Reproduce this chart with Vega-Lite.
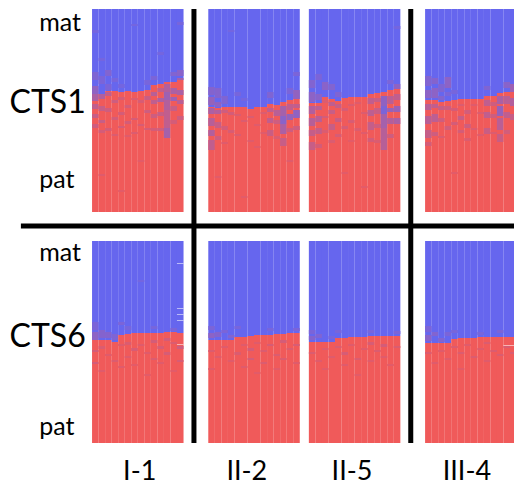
{"$schema":"https://vega.github.io/schema/vega-lite/v6.json","width":514,"height":491,"padding":0,"autosize":"none","background":"white","view":{"stroke":null},
"datasets":{"cells":[
{"x":14.6,"y":9,"e":94,"v":1},{"x":14.6,"y":94,"e":212,"v":0},{"x":14.6,"y":30,"e":33,"v":0.9},{"x":14.6,"y":72,"e":80,"v":0.82},{"x":14.6,"y":86,"e":94,"v":0.7},{"x":14.6,"y":94,"e":101,"v":0.5},{"x":14.6,"y":104,"e":109,"v":0.35},{"x":14.6,"y":114,"e":118,"v":0.3},{"x":14.6,"y":124,"e":128,"v":0.25},
{"x":15.6,"y":9,"e":94,"v":1},{"x":15.6,"y":94,"e":212,"v":0},{"x":15.6,"y":58,"e":61,"v":0.9},{"x":15.6,"y":76,"e":84,"v":0.85},{"x":15.6,"y":94,"e":99,"v":0.45},{"x":15.6,"y":106,"e":111,"v":0.3},{"x":15.6,"y":120,"e":123,"v":0.3},{"x":15.6,"y":130,"e":133,"v":0.2},{"x":15.6,"y":174,"e":176,"v":0.12},
{"x":16.6,"y":9,"e":91,"v":1},{"x":16.6,"y":91,"e":212,"v":0},{"x":16.6,"y":70,"e":76,"v":0.8},{"x":16.6,"y":84,"e":90,"v":0.85},{"x":16.6,"y":92,"e":96,"v":0.35},{"x":16.6,"y":108,"e":112,"v":0.25},{"x":16.6,"y":128,"e":131,"v":0.2},
{"x":17.6,"y":9,"e":91,"v":1},{"x":17.6,"y":91,"e":212,"v":0},{"x":17.6,"y":78,"e":82,"v":0.88},{"x":17.6,"y":100,"e":103,"v":0.25},{"x":17.6,"y":117,"e":120,"v":0.2},{"x":17.6,"y":134,"e":136,"v":0.15},
{"x":18.6,"y":9,"e":92,"v":1},{"x":18.6,"y":92,"e":212,"v":0},{"x":18.6,"y":84,"e":88,"v":0.9},{"x":18.6,"y":97,"e":100,"v":0.2},{"x":18.6,"y":112,"e":115,"v":0.2},{"x":18.6,"y":126,"e":128,"v":0.2},{"x":18.6,"y":190,"e":192,"v":0.1},
{"x":19.6,"y":9,"e":91,"v":1},{"x":19.6,"y":91,"e":212,"v":0},{"x":19.6,"y":105,"e":108,"v":0.2},{"x":19.6,"y":121,"e":124,"v":0.2},{"x":19.6,"y":135,"e":137,"v":0.12},
{"x":20.6,"y":9,"e":92,"v":1},{"x":20.6,"y":92,"e":212,"v":0},{"x":20.6,"y":24,"e":26,"v":0.9},{"x":20.6,"y":98,"e":100,"v":0.15},{"x":20.6,"y":118,"e":120,"v":0.2},{"x":20.6,"y":132,"e":134,"v":0.15},
{"x":21.6,"y":9,"e":91,"v":1},{"x":21.6,"y":91,"e":212,"v":0},{"x":21.6,"y":100,"e":103,"v":0.18},{"x":21.6,"y":124,"e":126,"v":0.18},{"x":21.6,"y":160,"e":162,"v":0.1},
{"x":22.6,"y":9,"e":90,"v":1},{"x":22.6,"y":90,"e":212,"v":0},{"x":22.6,"y":80,"e":85,"v":0.88},{"x":22.6,"y":96,"e":100,"v":0.28},{"x":22.6,"y":110,"e":113,"v":0.25},{"x":22.6,"y":128,"e":130,"v":0.2},
{"x":23.6,"y":9,"e":85,"v":1},{"x":23.6,"y":85,"e":212,"v":0},{"x":23.6,"y":76,"e":80,"v":0.85},{"x":23.6,"y":92,"e":96,"v":0.4},{"x":23.6,"y":100,"e":104,"v":0.35},{"x":23.6,"y":114,"e":118,"v":0.25},{"x":23.6,"y":128,"e":131,"v":0.2},
{"x":24.6,"y":9,"e":84,"v":1},{"x":24.6,"y":84,"e":212,"v":0},{"x":24.6,"y":52,"e":55,"v":0.9},{"x":24.6,"y":88,"e":92,"v":0.35},{"x":24.6,"y":98,"e":102,"v":0.5},{"x":24.6,"y":112,"e":116,"v":0.3},{"x":24.6,"y":128,"e":131,"v":0.25},
{"x":25.6,"y":9,"e":82,"v":1},{"x":25.6,"y":82,"e":212,"v":0},{"x":25.6,"y":84,"e":92,"v":0.45},{"x":25.6,"y":92,"e":100,"v":0.6},{"x":25.6,"y":100,"e":110,"v":0.45},{"x":25.6,"y":110,"e":128,"v":0.35},{"x":25.6,"y":128,"e":138,"v":0.55},
{"x":26.6,"y":9,"e":82,"v":1},{"x":26.6,"y":82,"e":212,"v":0},{"x":26.6,"y":72,"e":76,"v":0.8},{"x":26.6,"y":88,"e":94,"v":0.5},{"x":26.6,"y":97,"e":101,"v":0.6},{"x":26.6,"y":106,"e":111,"v":0.3},{"x":26.6,"y":120,"e":124,"v":0.2},
{"x":27.6,"y":9,"e":80,"v":1},{"x":27.6,"y":80,"e":212,"v":0},{"x":27.6,"y":22,"e":25,"v":0.88},{"x":27.6,"y":70,"e":76,"v":0.75},{"x":27.6,"y":78,"e":80,"v":0.55},{"x":27.6,"y":90,"e":95,"v":0.5},{"x":27.6,"y":100,"e":104,"v":0.4},{"x":27.6,"y":116,"e":120,"v":0.25},

{"x":32.4,"y":9,"e":107,"v":1},{"x":32.4,"y":107,"e":212,"v":0},{"x":32.4,"y":87,"e":95,"v":0.78},{"x":32.4,"y":97,"e":105,"v":0.65},{"x":32.4,"y":108,"e":114,"v":0.5},{"x":32.4,"y":118,"e":126,"v":0.42},{"x":32.4,"y":130,"e":136,"v":0.45},{"x":32.4,"y":140,"e":150,"v":0.35},
{"x":33.4,"y":9,"e":108,"v":1},{"x":33.4,"y":108,"e":212,"v":0},{"x":33.4,"y":88,"e":98,"v":0.78},{"x":33.4,"y":102,"e":107,"v":0.7},{"x":33.4,"y":110,"e":114,"v":0.45},{"x":33.4,"y":122,"e":128,"v":0.3},{"x":33.4,"y":136,"e":140,"v":0.25},{"x":33.4,"y":176,"e":178,"v":0.1},
{"x":34.4,"y":9,"e":107,"v":1},{"x":34.4,"y":107,"e":212,"v":0},{"x":34.4,"y":96,"e":104,"v":0.82},{"x":34.4,"y":110,"e":113,"v":0.25},{"x":34.4,"y":126,"e":130,"v":0.2},{"x":34.4,"y":142,"e":144,"v":0.12},
{"x":35.4,"y":9,"e":107,"v":1},{"x":35.4,"y":107,"e":212,"v":0},{"x":35.4,"y":30,"e":32,"v":0.9},{"x":35.4,"y":112,"e":115,"v":0.2},{"x":35.4,"y":130,"e":133,"v":0.18},
{"x":36.4,"y":9,"e":107,"v":1},{"x":36.4,"y":107,"e":212,"v":0},{"x":36.4,"y":92,"e":96,"v":0.88},{"x":36.4,"y":114,"e":116,"v":0.15},{"x":36.4,"y":134,"e":136,"v":0.15},
{"x":37.4,"y":9,"e":107,"v":1},{"x":37.4,"y":107,"e":212,"v":0},{"x":37.4,"y":98,"e":101,"v":0.9},{"x":37.4,"y":120,"e":122,"v":0.15},{"x":37.4,"y":196,"e":198,"v":0.1},
{"x":38.4,"y":9,"e":109,"v":1},{"x":38.4,"y":109,"e":212,"v":0},{"x":38.4,"y":116,"e":118,"v":0.15},{"x":38.4,"y":140,"e":142,"v":0.12},
{"x":39.4,"y":9,"e":107,"v":1},{"x":39.4,"y":107,"e":212,"v":0},{"x":39.4,"y":124,"e":126,"v":0.12},{"x":39.4,"y":146,"e":148,"v":0.1},
{"x":40.4,"y":9,"e":107,"v":1},{"x":40.4,"y":107,"e":212,"v":0},{"x":40.4,"y":112,"e":114,"v":0.15},{"x":40.4,"y":132,"e":134,"v":0.12},
{"x":41.4,"y":9,"e":104,"v":1},{"x":41.4,"y":104,"e":212,"v":0},{"x":41.4,"y":92,"e":98,"v":0.82},{"x":41.4,"y":108,"e":112,"v":0.35},{"x":41.4,"y":118,"e":123,"v":0.35},{"x":41.4,"y":130,"e":136,"v":0.28},
{"x":42.4,"y":9,"e":105,"v":1},{"x":42.4,"y":105,"e":212,"v":0},{"x":42.4,"y":110,"e":116,"v":0.4},{"x":42.4,"y":120,"e":124,"v":0.25},{"x":42.4,"y":136,"e":139,"v":0.15},
{"x":43.4,"y":9,"e":102,"v":1},{"x":43.4,"y":102,"e":212,"v":0},{"x":43.4,"y":106,"e":116,"v":0.55},{"x":43.4,"y":116,"e":124,"v":0.75},{"x":43.4,"y":124,"e":134,"v":0.5},{"x":43.4,"y":138,"e":146,"v":0.3},
{"x":44.4,"y":9,"e":100,"v":1},{"x":44.4,"y":100,"e":212,"v":0},{"x":44.4,"y":88,"e":94,"v":0.85},{"x":44.4,"y":104,"e":110,"v":0.35},{"x":44.4,"y":114,"e":120,"v":0.65},{"x":44.4,"y":128,"e":132,"v":0.25},{"x":44.4,"y":160,"e":162,"v":0.12},
{"x":45.4,"y":9,"e":99,"v":1},{"x":45.4,"y":99,"e":212,"v":0},{"x":45.4,"y":72,"e":76,"v":0.85},{"x":45.4,"y":90,"e":99,"v":0.68},{"x":45.4,"y":104,"e":108,"v":0.35},{"x":45.4,"y":110,"e":118,"v":0.7},{"x":45.4,"y":126,"e":130,"v":0.25},

{"x":47.8,"y":9,"e":103,"v":1},{"x":47.8,"y":103,"e":212,"v":0},{"x":47.8,"y":80,"e":88,"v":0.8},{"x":47.8,"y":92,"e":102,"v":0.72},{"x":47.8,"y":106,"e":114,"v":0.45},{"x":47.8,"y":118,"e":126,"v":0.42},{"x":47.8,"y":130,"e":136,"v":0.32},{"x":47.8,"y":142,"e":150,"v":0.3},
{"x":48.8,"y":9,"e":103,"v":1},{"x":48.8,"y":103,"e":212,"v":0},{"x":48.8,"y":74,"e":80,"v":0.85},{"x":48.8,"y":94,"e":100,"v":0.75},{"x":48.8,"y":106,"e":110,"v":0.4},{"x":48.8,"y":116,"e":122,"v":0.4},{"x":48.8,"y":128,"e":134,"v":0.32},{"x":48.8,"y":144,"e":148,"v":0.2},
{"x":49.8,"y":9,"e":97,"v":1},{"x":49.8,"y":97,"e":212,"v":0},{"x":49.8,"y":82,"e":90,"v":0.75},{"x":49.8,"y":100,"e":103,"v":0.15},{"x":49.8,"y":116,"e":118,"v":0.2},{"x":49.8,"y":130,"e":133,"v":0.15},
{"x":50.8,"y":9,"e":99,"v":1},{"x":50.8,"y":99,"e":212,"v":0},{"x":50.8,"y":84,"e":90,"v":0.8},{"x":50.8,"y":102,"e":106,"v":0.35},{"x":50.8,"y":110,"e":114,"v":0.3},{"x":50.8,"y":124,"e":130,"v":0.3},{"x":50.8,"y":140,"e":143,"v":0.15},
{"x":51.8,"y":9,"e":101,"v":1},{"x":51.8,"y":101,"e":212,"v":0},{"x":51.8,"y":92,"e":97,"v":0.82},{"x":51.8,"y":104,"e":108,"v":0.3},{"x":51.8,"y":118,"e":122,"v":0.28},{"x":51.8,"y":134,"e":137,"v":0.18},
{"x":52.8,"y":9,"e":98,"v":1},{"x":52.8,"y":98,"e":212,"v":0},{"x":52.8,"y":108,"e":111,"v":0.18},{"x":52.8,"y":126,"e":129,"v":0.18},{"x":52.8,"y":172,"e":174,"v":0.1},
{"x":53.8,"y":9,"e":97,"v":1},{"x":53.8,"y":97,"e":212,"v":0},{"x":53.8,"y":104,"e":106,"v":0.15},{"x":53.8,"y":120,"e":123,"v":0.18},{"x":53.8,"y":140,"e":142,"v":0.1},
{"x":54.8,"y":9,"e":97,"v":1},{"x":54.8,"y":97,"e":212,"v":0},{"x":54.8,"y":102,"e":104,"v":0.12},{"x":54.8,"y":128,"e":131,"v":0.15},
{"x":55.8,"y":9,"e":97,"v":1},{"x":55.8,"y":97,"e":212,"v":0},{"x":55.8,"y":112,"e":114,"v":0.15},{"x":55.8,"y":132,"e":134,"v":0.12},{"x":55.8,"y":186,"e":188,"v":0.1},
{"x":56.8,"y":9,"e":94,"v":1},{"x":56.8,"y":94,"e":212,"v":0},{"x":56.8,"y":98,"e":104,"v":0.35},{"x":56.8,"y":110,"e":116,"v":0.38},{"x":56.8,"y":122,"e":130,"v":0.32},{"x":56.8,"y":138,"e":142,"v":0.2},
{"x":57.8,"y":9,"e":93,"v":1},{"x":57.8,"y":93,"e":212,"v":0},{"x":57.8,"y":98,"e":102,"v":0.3},{"x":57.8,"y":108,"e":114,"v":0.3},{"x":57.8,"y":124,"e":128,"v":0.25},{"x":57.8,"y":140,"e":143,"v":0.15},
{"x":58.8,"y":9,"e":92,"v":1},{"x":58.8,"y":92,"e":212,"v":0},{"x":58.8,"y":96,"e":106,"v":0.7},{"x":58.8,"y":106,"e":114,"v":0.85},{"x":58.8,"y":114,"e":128,"v":0.55},{"x":58.8,"y":128,"e":150,"v":0.42},
{"x":59.8,"y":9,"e":90,"v":1},{"x":59.8,"y":90,"e":212,"v":0},{"x":59.8,"y":80,"e":84,"v":0.85},{"x":59.8,"y":96,"e":104,"v":0.4},{"x":59.8,"y":108,"e":112,"v":0.65},{"x":59.8,"y":118,"e":124,"v":0.45},{"x":59.8,"y":134,"e":138,"v":0.25},
{"x":60.8,"y":9,"e":89,"v":1},{"x":60.8,"y":89,"e":212,"v":0},{"x":60.8,"y":26,"e":29,"v":0.9},{"x":60.8,"y":84,"e":89,"v":0.7},{"x":60.8,"y":94,"e":100,"v":0.35},{"x":60.8,"y":106,"e":112,"v":0.62},{"x":60.8,"y":118,"e":124,"v":0.5},

{"x":65.6,"y":9,"e":100,"v":1},{"x":65.6,"y":100,"e":212,"v":0},{"x":65.6,"y":76,"e":86,"v":0.8},{"x":65.6,"y":90,"e":98,"v":0.72},{"x":65.6,"y":104,"e":110,"v":0.42},{"x":65.6,"y":116,"e":124,"v":0.4},{"x":65.6,"y":130,"e":138,"v":0.32},{"x":65.6,"y":142,"e":146,"v":0.2},
{"x":66.6,"y":9,"e":100,"v":1},{"x":66.6,"y":100,"e":212,"v":0},{"x":66.6,"y":78,"e":84,"v":0.78},{"x":66.6,"y":88,"e":98,"v":0.72},{"x":66.6,"y":104,"e":108,"v":0.35},{"x":66.6,"y":114,"e":122,"v":0.38},{"x":66.6,"y":132,"e":136,"v":0.25},
{"x":67.6,"y":9,"e":102,"v":1},{"x":67.6,"y":102,"e":212,"v":0},{"x":67.6,"y":84,"e":92,"v":0.82},{"x":67.6,"y":96,"e":100,"v":0.8},{"x":67.6,"y":106,"e":110,"v":0.3},{"x":67.6,"y":118,"e":122,"v":0.25},{"x":67.6,"y":136,"e":138,"v":0.15},
{"x":68.6,"y":9,"e":101,"v":1},{"x":68.6,"y":101,"e":212,"v":0},{"x":68.6,"y":77,"e":88,"v":0.72},{"x":68.6,"y":92,"e":96,"v":0.85},{"x":68.6,"y":106,"e":110,"v":0.25},{"x":68.6,"y":126,"e":130,"v":0.22},
{"x":69.6,"y":9,"e":100,"v":1},{"x":69.6,"y":100,"e":212,"v":0},{"x":69.6,"y":90,"e":94,"v":0.88},{"x":69.6,"y":108,"e":111,"v":0.2},{"x":69.6,"y":122,"e":125,"v":0.2},{"x":69.6,"y":172,"e":174,"v":0.1},
{"x":70.6,"y":9,"e":99,"v":1},{"x":70.6,"y":99,"e":212,"v":0},{"x":70.6,"y":104,"e":106,"v":0.15},{"x":70.6,"y":116,"e":120,"v":0.3},{"x":70.6,"y":130,"e":133,"v":0.2},
{"x":71.6,"y":9,"e":99,"v":1},{"x":71.6,"y":99,"e":212,"v":0},{"x":71.6,"y":110,"e":114,"v":0.22},{"x":71.6,"y":124,"e":128,"v":0.25},{"x":71.6,"y":138,"e":141,"v":0.15},
{"x":72.6,"y":9,"e":99,"v":1},{"x":72.6,"y":99,"e":212,"v":0},{"x":72.6,"y":104,"e":106,"v":0.12},{"x":72.6,"y":128,"e":130,"v":0.15},
{"x":73.6,"y":9,"e":99,"v":1},{"x":73.6,"y":99,"e":212,"v":0},{"x":73.6,"y":112,"e":114,"v":0.15},{"x":73.6,"y":134,"e":136,"v":0.12},
{"x":74.6,"y":9,"e":96,"v":1},{"x":74.6,"y":96,"e":212,"v":0},{"x":74.6,"y":86,"e":90,"v":0.82},{"x":74.6,"y":100,"e":106,"v":0.35},{"x":74.6,"y":112,"e":118,"v":0.35},{"x":74.6,"y":128,"e":134,"v":0.28},
{"x":75.6,"y":9,"e":96,"v":1},{"x":75.6,"y":96,"e":212,"v":0},{"x":75.6,"y":102,"e":106,"v":0.25},{"x":75.6,"y":114,"e":118,"v":0.25},{"x":75.6,"y":132,"e":134,"v":0.15},
{"x":76.6,"y":9,"e":93,"v":1},{"x":76.6,"y":93,"e":212,"v":0},{"x":76.6,"y":96,"e":104,"v":0.5},{"x":76.6,"y":106,"e":116,"v":0.65},{"x":76.6,"y":118,"e":130,"v":0.4},{"x":76.6,"y":134,"e":142,"v":0.28},
{"x":77.6,"y":9,"e":92,"v":1},{"x":77.6,"y":92,"e":212,"v":0},{"x":77.6,"y":82,"e":88,"v":0.75},{"x":77.6,"y":96,"e":104,"v":0.4},{"x":77.6,"y":112,"e":118,"v":0.35},{"x":77.6,"y":130,"e":134,"v":0.22},
{"x":78.6,"y":9,"e":92,"v":1},{"x":78.6,"y":92,"e":212,"v":0},{"x":78.6,"y":84,"e":92,"v":0.6},{"x":78.6,"y":98,"e":106,"v":0.45},{"x":78.6,"y":114,"e":120,"v":0.3},

{"x":14.6,"y":241,"e":340,"v":1},{"x":14.6,"y":340,"e":443,"v":0},{"x":14.6,"y":322,"e":330,"v":0.85},{"x":14.6,"y":332,"e":340,"v":0.72},{"x":14.6,"y":350,"e":352,"v":0.2},{"x":14.6,"y":362,"e":364,"v":0.2},
{"x":15.6,"y":241,"e":340,"v":1},{"x":15.6,"y":340,"e":443,"v":0},{"x":15.6,"y":330,"e":338,"v":0.78},{"x":15.6,"y":346,"e":349,"v":0.15},{"x":15.6,"y":370,"e":372,"v":0.12},
{"x":16.6,"y":241,"e":340,"v":1},{"x":16.6,"y":340,"e":443,"v":0},{"x":16.6,"y":332,"e":338,"v":0.78},{"x":16.6,"y":354,"e":356,"v":0.12},
{"x":17.6,"y":241,"e":342,"v":1},{"x":17.6,"y":342,"e":443,"v":0},{"x":17.6,"y":334,"e":340,"v":0.82},{"x":17.6,"y":360,"e":362,"v":0.15},
{"x":18.6,"y":241,"e":335,"v":1},{"x":18.6,"y":335,"e":443,"v":0},{"x":18.6,"y":322,"e":325,"v":0.85},{"x":18.6,"y":344,"e":346,"v":0.12},{"x":18.6,"y":366,"e":368,"v":0.12},
{"x":19.6,"y":241,"e":334,"v":1},{"x":19.6,"y":334,"e":443,"v":0},{"x":19.6,"y":326,"e":330,"v":0.88},{"x":19.6,"y":342,"e":345,"v":0.15},{"x":19.6,"y":356,"e":358,"v":0.12},
{"x":20.6,"y":241,"e":333,"v":1},{"x":20.6,"y":333,"e":443,"v":0},{"x":20.6,"y":348,"e":351,"v":0.18},{"x":20.6,"y":364,"e":366,"v":0.1},
{"x":21.6,"y":241,"e":333,"v":1},{"x":21.6,"y":333,"e":443,"v":0},{"x":21.6,"y":280,"e":282,"v":0.9},{"x":21.6,"y":344,"e":346,"v":0.12},
{"x":22.6,"y":241,"e":333,"v":1},{"x":22.6,"y":333,"e":443,"v":0},{"x":22.6,"y":352,"e":354,"v":0.12},{"x":22.6,"y":374,"e":376,"v":0.1},
{"x":23.6,"y":241,"e":333,"v":1},{"x":23.6,"y":333,"e":443,"v":0},{"x":23.6,"y":326,"e":329,"v":0.88},{"x":23.6,"y":340,"e":343,"v":0.2},{"x":23.6,"y":358,"e":360,"v":0.15},
{"x":24.6,"y":241,"e":333,"v":1},{"x":24.6,"y":333,"e":443,"v":0},{"x":24.6,"y":346,"e":349,"v":0.18},{"x":24.6,"y":362,"e":364,"v":0.12},
{"x":25.6,"y":241,"e":332,"v":1},{"x":25.6,"y":332,"e":443,"v":0},{"x":25.6,"y":338,"e":341,"v":0.2},{"x":25.6,"y":352,"e":355,"v":0.18},
{"x":26.6,"y":241,"e":332,"v":1},{"x":26.6,"y":332,"e":443,"v":0},{"x":26.6,"y":328,"e":331,"v":0.85},{"x":26.6,"y":342,"e":344,"v":0.15},{"x":26.6,"y":370,"e":372,"v":0.1},
{"x":27.6,"y":241,"e":333,"v":1},{"x":27.6,"y":333,"e":443,"v":0},{"x":27.6,"y":346,"e":349,"v":0.25},{"x":27.6,"y":360,"e":362,"v":0.18},

{"x":32.4,"y":241,"e":340,"v":1},{"x":32.4,"y":340,"e":443,"v":0},{"x":32.4,"y":326,"e":330,"v":0.85},{"x":32.4,"y":333,"e":338,"v":0.72},{"x":32.4,"y":350,"e":352,"v":0.15},{"x":32.4,"y":368,"e":370,"v":0.12},
{"x":33.4,"y":241,"e":340,"v":1},{"x":33.4,"y":340,"e":443,"v":0},{"x":33.4,"y":332,"e":337,"v":0.78},{"x":33.4,"y":356,"e":358,"v":0.12},
{"x":34.4,"y":241,"e":340,"v":1},{"x":34.4,"y":340,"e":443,"v":0},{"x":34.4,"y":330,"e":333,"v":0.85},{"x":34.4,"y":346,"e":348,"v":0.12},
{"x":35.4,"y":241,"e":340,"v":1},{"x":35.4,"y":340,"e":443,"v":0},{"x":35.4,"y":335,"e":338,"v":0.8},{"x":35.4,"y":360,"e":362,"v":0.12},
{"x":36.4,"y":241,"e":337,"v":1},{"x":36.4,"y":337,"e":443,"v":0},{"x":36.4,"y":326,"e":329,"v":0.88},{"x":36.4,"y":352,"e":355,"v":0.15},
{"x":37.4,"y":241,"e":337,"v":1},{"x":37.4,"y":337,"e":443,"v":0},{"x":37.4,"y":344,"e":346,"v":0.12},{"x":37.4,"y":366,"e":368,"v":0.12},
{"x":38.4,"y":241,"e":336,"v":1},{"x":38.4,"y":336,"e":443,"v":0},{"x":38.4,"y":348,"e":351,"v":0.2},{"x":38.4,"y":358,"e":360,"v":0.2},
{"x":39.4,"y":241,"e":335,"v":1},{"x":39.4,"y":335,"e":443,"v":0},{"x":39.4,"y":342,"e":344,"v":0.12},{"x":39.4,"y":372,"e":374,"v":0.1},
{"x":40.4,"y":241,"e":335,"v":1},{"x":40.4,"y":335,"e":443,"v":0},{"x":40.4,"y":350,"e":352,"v":0.15},{"x":40.4,"y":362,"e":364,"v":0.15},
{"x":41.4,"y":241,"e":335,"v":1},{"x":41.4,"y":335,"e":443,"v":0},{"x":41.4,"y":328,"e":331,"v":0.88},{"x":41.4,"y":344,"e":346,"v":0.18},
{"x":42.4,"y":241,"e":334,"v":1},{"x":42.4,"y":334,"e":443,"v":0},{"x":42.4,"y":354,"e":356,"v":0.15},{"x":42.4,"y":368,"e":370,"v":0.1},
{"x":43.4,"y":241,"e":334,"v":1},{"x":43.4,"y":334,"e":443,"v":0},{"x":43.4,"y":340,"e":343,"v":0.2},{"x":43.4,"y":358,"e":360,"v":0.15},
{"x":44.4,"y":241,"e":333,"v":1},{"x":44.4,"y":333,"e":443,"v":0},{"x":44.4,"y":348,"e":350,"v":0.15},
{"x":45.4,"y":241,"e":333,"v":1},{"x":45.4,"y":333,"e":443,"v":0},{"x":45.4,"y":328,"e":331,"v":0.85},{"x":45.4,"y":344,"e":346,"v":0.18},{"x":45.4,"y":362,"e":364,"v":0.12},

{"x":47.8,"y":241,"e":342,"v":1},{"x":47.8,"y":342,"e":443,"v":0},{"x":47.8,"y":330,"e":334,"v":0.85},{"x":47.8,"y":336,"e":340,"v":0.78},{"x":47.8,"y":352,"e":354,"v":0.15},
{"x":48.8,"y":241,"e":342,"v":1},{"x":48.8,"y":342,"e":443,"v":0},{"x":48.8,"y":334,"e":338,"v":0.82},{"x":48.8,"y":360,"e":362,"v":0.12},
{"x":49.8,"y":241,"e":342,"v":1},{"x":49.8,"y":342,"e":443,"v":0},{"x":49.8,"y":348,"e":350,"v":0.12},{"x":49.8,"y":368,"e":370,"v":0.1},
{"x":50.8,"y":241,"e":342,"v":1},{"x":50.8,"y":342,"e":443,"v":0},{"x":50.8,"y":336,"e":339,"v":0.88},{"x":50.8,"y":356,"e":358,"v":0.12},
{"x":51.8,"y":241,"e":338,"v":1},{"x":51.8,"y":338,"e":443,"v":0},{"x":51.8,"y":330,"e":333,"v":0.88},{"x":51.8,"y":346,"e":348,"v":0.15},
{"x":52.8,"y":241,"e":338,"v":1},{"x":52.8,"y":338,"e":443,"v":0},{"x":52.8,"y":352,"e":355,"v":0.18},{"x":52.8,"y":364,"e":366,"v":0.12},
{"x":53.8,"y":241,"e":337,"v":1},{"x":53.8,"y":337,"e":443,"v":0},{"x":53.8,"y":344,"e":346,"v":0.12},
{"x":54.8,"y":241,"e":337,"v":1},{"x":54.8,"y":337,"e":443,"v":0},{"x":54.8,"y":358,"e":360,"v":0.15},{"x":54.8,"y":374,"e":376,"v":0.1},
{"x":55.8,"y":241,"e":337,"v":1},{"x":55.8,"y":337,"e":443,"v":0},{"x":55.8,"y":348,"e":350,"v":0.12},
{"x":56.8,"y":241,"e":336,"v":1},{"x":56.8,"y":336,"e":443,"v":0},{"x":56.8,"y":330,"e":333,"v":0.88},{"x":56.8,"y":342,"e":345,"v":0.18},{"x":56.8,"y":360,"e":362,"v":0.12},
{"x":57.8,"y":241,"e":336,"v":1},{"x":57.8,"y":336,"e":443,"v":0},{"x":57.8,"y":350,"e":352,"v":0.15},
{"x":58.8,"y":241,"e":336,"v":1},{"x":58.8,"y":336,"e":443,"v":0},{"x":58.8,"y":344,"e":347,"v":0.2},{"x":58.8,"y":356,"e":358,"v":0.12},
{"x":59.8,"y":241,"e":336,"v":1},{"x":59.8,"y":336,"e":443,"v":0},{"x":59.8,"y":364,"e":366,"v":0.1},
{"x":60.8,"y":241,"e":336,"v":1},{"x":60.8,"y":336,"e":443,"v":0},{"x":60.8,"y":331,"e":334,"v":0.85},{"x":60.8,"y":346,"e":348,"v":0.15},

{"x":65.6,"y":241,"e":343,"v":1},{"x":65.6,"y":343,"e":443,"v":0},{"x":65.6,"y":326,"e":332,"v":0.85},{"x":65.6,"y":335,"e":341,"v":0.75},{"x":65.6,"y":352,"e":354,"v":0.15},
{"x":66.6,"y":241,"e":343,"v":1},{"x":66.6,"y":343,"e":443,"v":0},{"x":66.6,"y":332,"e":336,"v":0.8},{"x":66.6,"y":362,"e":364,"v":0.12},
{"x":67.6,"y":241,"e":343,"v":1},{"x":67.6,"y":343,"e":443,"v":0},{"x":67.6,"y":338,"e":342,"v":0.8},{"x":67.6,"y":350,"e":352,"v":0.12},
{"x":68.6,"y":241,"e":343,"v":1},{"x":68.6,"y":343,"e":443,"v":0},{"x":68.6,"y":332,"e":336,"v":0.85},{"x":68.6,"y":358,"e":360,"v":0.12},
{"x":69.6,"y":241,"e":339,"v":1},{"x":69.6,"y":339,"e":443,"v":0},{"x":69.6,"y":330,"e":333,"v":0.88},{"x":69.6,"y":346,"e":348,"v":0.15},
{"x":70.6,"y":241,"e":338,"v":1},{"x":70.6,"y":338,"e":443,"v":0},{"x":70.6,"y":352,"e":354,"v":0.15},{"x":70.6,"y":368,"e":370,"v":0.1},
{"x":71.6,"y":241,"e":338,"v":1},{"x":71.6,"y":338,"e":443,"v":0},{"x":71.6,"y":344,"e":346,"v":0.12},
{"x":72.6,"y":241,"e":338,"v":1},{"x":72.6,"y":338,"e":443,"v":0},{"x":72.6,"y":356,"e":358,"v":0.15},
{"x":73.6,"y":241,"e":337,"v":1},{"x":73.6,"y":337,"e":443,"v":0},{"x":73.6,"y":332,"e":335,"v":0.88},{"x":73.6,"y":348,"e":350,"v":0.12},
{"x":74.6,"y":241,"e":337,"v":1},{"x":74.6,"y":337,"e":443,"v":0},{"x":74.6,"y":342,"e":344,"v":0.15},{"x":74.6,"y":360,"e":362,"v":0.12},
{"x":75.6,"y":241,"e":337,"v":1},{"x":75.6,"y":337,"e":443,"v":0},{"x":75.6,"y":350,"e":352,"v":0.15},
{"x":76.6,"y":241,"e":337,"v":1},{"x":76.6,"y":337,"e":443,"v":0},{"x":76.6,"y":330,"e":333,"v":0.85},{"x":76.6,"y":354,"e":356,"v":0.15},
{"x":77.6,"y":241,"e":337,"v":1},{"x":77.6,"y":337,"e":443,"v":0},{"x":77.6,"y":346,"e":348,"v":0.15},
{"x":78.6,"y":241,"e":337,"v":1},{"x":78.6,"y":337,"e":443,"v":0},{"x":78.6,"y":352,"e":354,"v":0.15}
],
"streaks":[
{"x":27.6,"y":308,"e":309},{"x":27.6,"y":314,"e":315},{"x":27.6,"y":320,"e":321},{"x":27.6,"y":344,"e":345},{"x":27.6,"y":263,"e":264},
{"x":77.6,"y":345,"e":346},{"x":78.6,"y":345,"e":346}
],
"seps":[
{"x":15.1},{"x":16.1},{"x":17.1},{"x":18.1},{"x":19.1},{"x":20.1},{"x":21.1},{"x":22.1},{"x":23.1},{"x":24.1},{"x":25.1},{"x":26.1},{"x":27.1},
{"x":32.9},{"x":33.9},{"x":34.9},{"x":35.9},{"x":36.9},{"x":37.9},{"x":38.9},{"x":39.9},{"x":40.9},{"x":41.9},{"x":42.9},{"x":43.9},{"x":44.9},
{"x":48.3},{"x":49.3},{"x":50.3},{"x":51.3},{"x":52.3},{"x":53.3},{"x":54.3},{"x":55.3},{"x":56.3},{"x":57.3},{"x":58.3},{"x":59.3},{"x":60.3},
{"x":66.1},{"x":67.1},{"x":68.1},{"x":69.1},{"x":70.1},{"x":71.1},{"x":72.1},{"x":73.1},{"x":74.1},{"x":75.1},{"x":76.1},{"x":77.1},{"x":78.1}
],
"lines":[{"x":29.7,"x2":29.7,"y":9,"e":443},{"x":62.9,"x2":62.9,"y":9,"e":443},{"x":3.2,"x2":78.71,"y":226,"e":226}],
"small":[{"x":9.2,"y":23,"t":"mat"},{"x":8.7,"y":180,"t":"pat"},{"x":9.2,"y":253,"t":"mat"},{"x":8.7,"y":427,"t":"pat"}],
"big":[{"x":7.3,"y":103,"t":"CTS1"},{"x":7.3,"y":337,"t":"CTS6"}],
"bottom":[{"x":21.4,"y":472,"t":"I-1"},{"x":37.8,"y":472,"t":"II-2"},{"x":53.9,"y":472,"t":"II-5"},{"x":71.5,"y":472,"t":"III-4"}]
},
"encoding":{
"x":{"field":"x","type":"quantitative","axis":null,"scale":{"domain":[0,78.71],"nice":false,"zero":false,"padding":0}},
"y":{"field":"y","type":"quantitative","axis":null,"scale":{"domain":[491,0],"nice":false,"zero":false}}
},
"layer":[
{"data":{"name":"cells"},"mark":{"type":"bar","orient":"vertical","width":6.6,"clip":true},"encoding":{"y2":{"field":"e"},"color":{"field":"v","type":"quantitative","legend":null,"scale":{"domain":[0,1],"range":["#f05a5a","#6666ee"],"interpolate":"rgb"}}}},
{"data":{"name":"streaks"},"mark":{"type":"bar","orient":"vertical","width":6.6,"clip":true,"color":"white","opacity":0.55},"encoding":{"y2":{"field":"e"}}},
{"data":{"name":"seps"},"mark":{"type":"rule","color":"white","opacity":0.35,"strokeWidth":1},"encoding":{"y":{"datum":9},"y2":{"datum":212}}},
{"data":{"name":"seps"},"mark":{"type":"rule","color":"white","opacity":0.35,"strokeWidth":1},"encoding":{"y":{"datum":241},"y2":{"datum":443}}},
{"data":{"name":"lines"},"mark":{"type":"rule","color":"black","strokeWidth":5},"encoding":{"x2":{"field":"x2"},"y2":{"field":"e"}}},
{"data":{"name":"small"},"mark":{"type":"text","font":"Lato","fontSize":25,"color":"black","align":"center","baseline":"middle"},"encoding":{"text":{"field":"t"}}},
{"data":{"name":"big"},"mark":{"type":"text","font":"Lato","fontSize":32,"color":"black","align":"center","baseline":"middle"},"encoding":{"text":{"field":"t"}}},
{"data":{"name":"bottom"},"mark":{"type":"text","font":"Lato","fontSize":27,"color":"black","align":"center","baseline":"middle"},"encoding":{"text":{"field":"t"}}}
]}
